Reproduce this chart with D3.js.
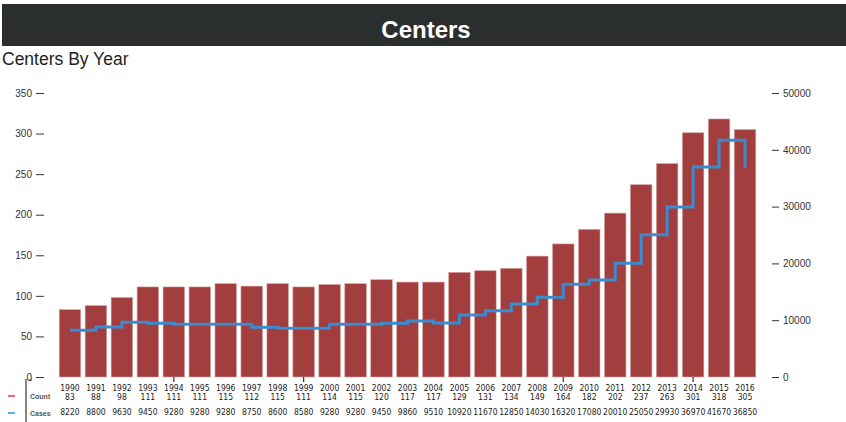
<!DOCTYPE html>
<html>
<head>
<meta charset="utf-8">
<script src="https://cdn.jsdelivr.net/npm/d3@7"></script>
<style>
  html, body { margin: 0; padding: 0; background: #fff; }
  svg { display: block; }
</style>
</head>
<body>
<svg id="chart" width="846" height="422"></svg>
<script>
const years = [1990,1991,1992,1993,1994,1995,1996,1997,1998,1999,2000,2001,2002,2003,2004,2005,2006,2007,2008,2009,2010,2011,2012,2013,2014,2015,2016];
const counts = [83,88,98,111,111,111,115,112,115,111,114,115,120,117,117,129,131,134,149,164,182,202,237,263,301,318,305];
const cases = [8220,8800,9630,9450,9280,9280,9280,8750,8600,8580,9280,9280,9450,9860,9510,10920,11670,12850,14030,16320,17080,20010,25050,29930,36970,41670,36850];
const leftTicks = [0,50,100,150,200,250,300,350];
const rightTicks = [0,10000,20000,30000,40000,50000];
const xTickYears = [1994,1999,2009,2014];
const legendItems = ["Count","Cases"];

const svg = d3.select("#chart");
const W = 846, H = 422;

// Title bar
svg.append("rect").attr("x",2).attr("y",4).attr("width",W-2).attr("height",42).attr("fill","#2b2e2f");
svg.append("text").attr("x",426).attr("y",38).attr("text-anchor","middle")
  .attr("font-family","'Liberation Sans', Arial, sans-serif").attr("font-weight","bold")
  .attr("font-size",24).attr("fill","#fff").text("Centers");
svg.append("text").attr("x",2).attr("y",65)
  .attr("font-family","'Liberation Sans', Arial, sans-serif")
  .attr("font-size",17.5).attr("fill","#222").text("Centers By Year");

const x = d3.scaleBand().domain(years).range([57,758]).paddingInner(0.17).paddingOuter(0.085);
const y = d3.scaleLinear().domain([0,350]).range([377,93]);
const y2 = d3.scaleLinear().domain([0,50000]).range([377,93]);

// Bars
svg.append("g").selectAll("rect").data(years).join("rect")
  .attr("x", d => x(d))
  .attr("y", (d,i) => y(counts[i]))
  .attr("width", x.bandwidth())
  .attr("height", (d,i) => y(0) - y(counts[i]))
  .attr("fill","#a33e3e")
  .attr("stroke","#d9a5a5").attr("stroke-width",0.6);

// Step line
const line = d3.line()
  .x((d,i) => x(years[i]) + x.bandwidth()/2)
  .y(d => y2(d))
  .curve(d3.curveStepAfter);
svg.append("path").datum(cases).attr("d", line)
  .attr("fill","none").attr("stroke","#3a8bd0").attr("stroke-width",3);

// Left axis
const gl = svg.append("g").attr("transform","translate(44,0)")
  .call(d3.axisLeft(y).tickValues(leftTicks).tickSize(8).tickPadding(4));
gl.select(".domain").remove();
gl.selectAll(".tick line").attr("stroke","#333");
gl.selectAll("text").attr("font-family","'Liberation Sans', Arial, sans-serif").attr("font-size",10).attr("fill","#333");

// Right axis
const gr = svg.append("g").attr("transform","translate(772,0)")
  .call(d3.axisRight(y2).tickValues(rightTicks).tickSize(7).tickPadding(4).tickFormat(d3.format("d")));
gr.select(".domain").remove();
gr.selectAll(".tick line").attr("stroke","#333");
gr.selectAll("text").attr("font-family","'Liberation Sans', Arial, sans-serif").attr("font-size",10).attr("fill","#333");

// X ticks
svg.append("g").selectAll("line").data(xTickYears).join("line")
  .attr("x1", d => x(d) + x.bandwidth()/2).attr("x2", d => x(d) + x.bandwidth()/2)
  .attr("y1", 377).attr("y2", 382).attr("stroke","#333").attr("stroke-width",1.2);

// Data table labels
const lab = svg.append("g").attr("font-family","'Liberation Sans Narrow', 'DejaVu Sans Condensed', Arial, sans-serif")
  .attr("font-size",8.5).attr("fill","#222").attr("text-anchor","middle");
years.forEach((yr,i) => {
  const cx = x(yr) + x.bandwidth()/2;
  lab.append("text").attr("x",cx).attr("y",390.5).text(yr);
  lab.append("text").attr("x",cx).attr("y",400).text(counts[i]);
  lab.append("text").attr("x",cx).attr("y",415).text(cases[i]);
});

// Legend
svg.append("line").attr("x1",26).attr("x2",26).attr("y1",379).attr("y2",422).attr("stroke","#333").attr("stroke-width",1.2);
svg.append("line").attr("x1",29).attr("x2",32).attr("y1",380).attr("y2",380).attr("stroke","#333");
const legColors = ["#e8474a","#2a9ad8"];
const legY = [396, 413];
legendItems.forEach((t,i) => {
  svg.append("line").attr("x1",8).attr("x2",15).attr("y1",legY[i]).attr("y2",legY[i])
    .attr("stroke",legColors[i]).attr("stroke-width",1.6);
  svg.append("text").attr("x",30).attr("y",legY[i]+2.5)
    .attr("font-family","'Liberation Sans', Arial, sans-serif").attr("font-size",7).attr("font-weight","bold")
    .attr("fill","#555").text(t);
});
</script>
</body>
</html>
